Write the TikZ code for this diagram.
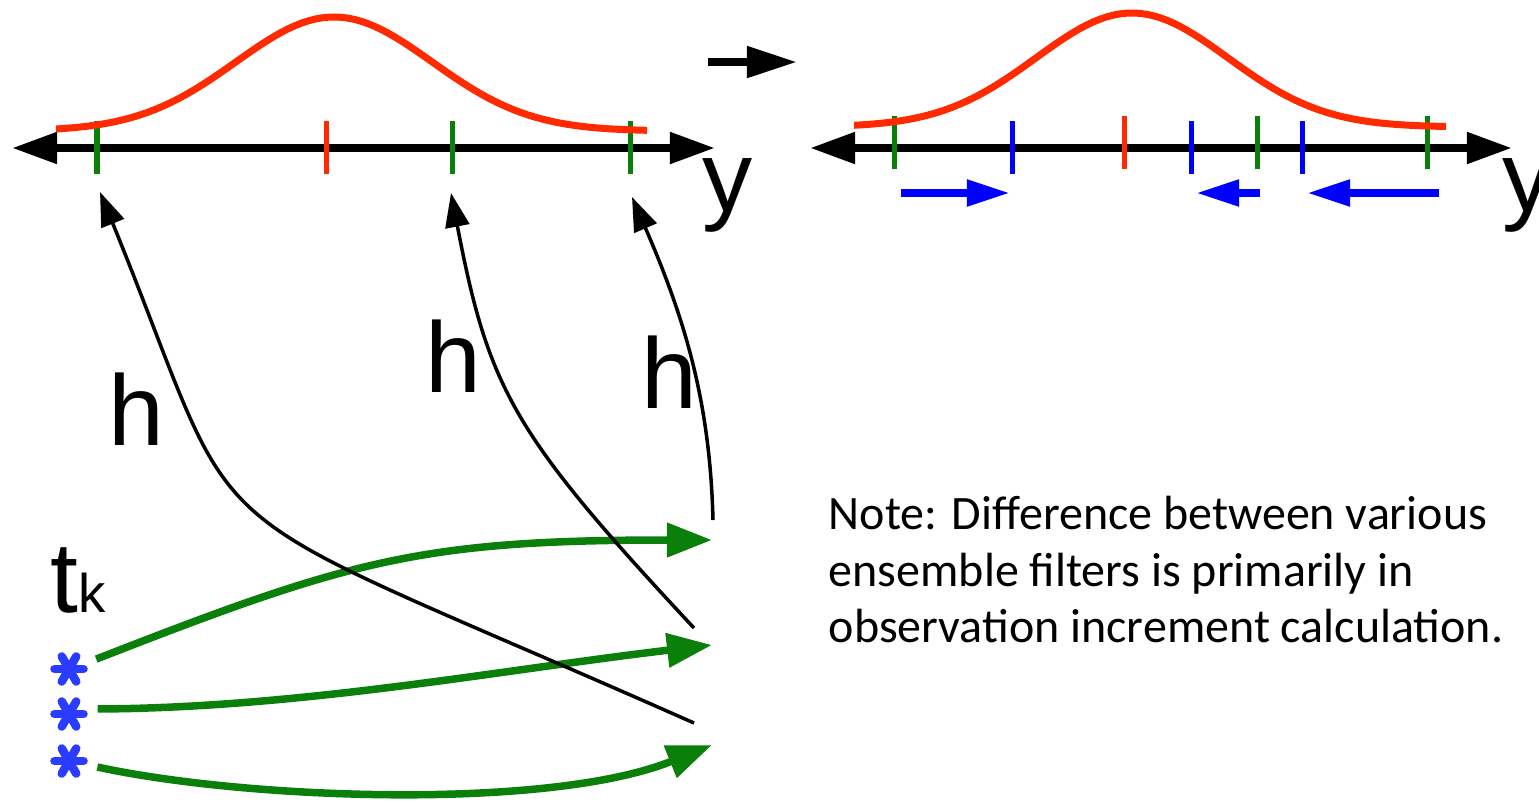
\documentclass[tikz,border=0pt]{standalone}
\usepackage{fontspec}
\setmainfont{Liberation Sans}
\newfontfamily\notefont{Carlito}
\usetikzlibrary{arrows.meta,calc}
\definecolor{pdfred}{HTML}{FF2A00}
\definecolor{ensgreen}{HTML}{0A800A}
\definecolor{obsblue}{HTML}{2A3CFF}
\definecolor{incblue}{HTML}{0000FF}

\begin{document}
\begin{tikzpicture}[x=0.01cm,y=-0.01cm,
  lbl/.style={font=\fontsize{28.5}{30}\selectfont,inner sep=0,anchor=base},
  axis/.style={{Triangle[length=4.5mm,width=3mm]}-{Triangle[length=4.5mm,width=3mm]},line width=0.8mm},
  pdf/.style={draw=pdfred,line width=0.7mm},
  tickln/.style={line width=0.5mm},
  fwd/.style={-{Triangle[length=4.5mm,width=3.3mm]},draw=ensgreen,line width=0.75mm},
  hmap/.style={-{Triangle[length=3.4mm,width=2.4mm]},line width=0.35mm},
  inc/.style={-{Triangle[length=4.3mm,width=2.5mm]},draw=incblue,line width=0.8mm},
  obs/.style={circle,minimum size=3.8mm,inner sep=0,outer sep=1mm},
  arm/.style={draw=obsblue,line width=0.85mm,line cap=round}]
\useasboundingbox (0,0) rectangle (1539,802);

% prior: ensemble and observation likelihood
\coordinate (la) at (12,148);  \coordinate (ra) at (715,148);
\draw[axis] (la) -- (ra);
\foreach \x/\c in {97/ensgreen,326/pdfred,452/ensgreen,630/ensgreen}
  \draw[tickln,draw=\c] (\x,121) -- (\x,174);
\draw[pdf] plot[domain=56:647,samples=90] (\x,{131-114*exp(-0.5*((\x-334)/98)*((\x-334)/98))});
\node[lbl] (y1) at (728,211) {y};

% step arrow
\coordinate (sa) at (708,62); \coordinate (sb) at (797,62);
\draw[-{Triangle[length=5mm,width=3mm]},line width=0.8mm] (sa) -- (sb);

% posterior: increments
\coordinate (lb) at (810,148); \coordinate (rb) at (1512,148);
\draw[axis] (lb) -- (rb);
\foreach \x/\c in {894/ensgreen,1124/pdfred,1257/ensgreen,1427/ensgreen}
  \draw[tickln,draw=\c] (\x,116) -- (\x,169);
\foreach \x in {1012,1191,1302}
  \draw[tickln,draw=incblue] (\x,121) -- (\x,174);
\draw[pdf] plot[domain=854:1446,samples=90] (\x,{127-114*exp(-0.5*((\x-1132)/96)*((\x-1132)/96))});
\node[lbl] (y2) at (1528,211) {y};
\coordinate (i1a) at (901,193);  \coordinate (i1b) at (1010,193);
\coordinate (i2a) at (1260,193); \coordinate (i2b) at (1196,193);
\coordinate (i3a) at (1439,193); \coordinate (i3b) at (1307,193);
\draw[inc] (i1a) -- (i1b);
\draw[inc] (i2a) -- (i2b);
\draw[inc] (i3a) -- (i3b);

% ensemble members at t_k
\node[lbl,anchor=base west] (tk) at (50,612) {t{\fontsize{15.5}{16}\selectfont k}};
\node[obs] (s1) at (69,669) {};
\node[obs] (s2) at (69,714) {};
\node[obs] (s3) at (69,761) {};
\foreach \s in {s1,s2,s3}
  \foreach \a in {0,60,120}
    \draw[arm] ($(\s)+(\a:1.45mm)$) -- ($(\s)+(\a+180:1.45mm)$);

\coordinate (e1) at (712,540);
\coordinate (e2) at (712,645);
\coordinate (e3) at (712,745);
\draw[fwd] (s1.20) .. controls (350,560) and (420,540) .. (e1);
\draw[fwd] (s2.10) .. controls (300,708) and (500,670) .. (e2);
\draw[fwd] (s3.-12) .. controls (250,800) and (550,810) .. (e3);

% forward operator
\coordinate (pA) at (694,723); \coordinate (hA) at (100,192);
\coordinate (pB) at (694,628); \coordinate (hB) at (451,193);
\coordinate (pC) at (713,520); \coordinate (hC) at (632,197);
\draw[hmap] (pA) .. controls (164,488) and (253,568) .. (hA);
\draw[hmap] (pB) .. controls (513,434) and (489,390) .. (hB);
\draw[hmap] (pC) .. controls (710,400) and (684,317) .. (hC);
\node[lbl] (h1) at (136,445) {h};
\node[lbl] (h2) at (453,392) {h};
\node[lbl] (h3) at (669,408) {h};

\node[anchor=north west,align=left,inner sep=0,font=\notefont\fontsize{13.65}{16.2}\selectfont] (note) at (828,495)
  {Note: Difference between various\\ensemble filters is primarily in\\observation increment calculation.};
\end{tikzpicture}
\end{document}
